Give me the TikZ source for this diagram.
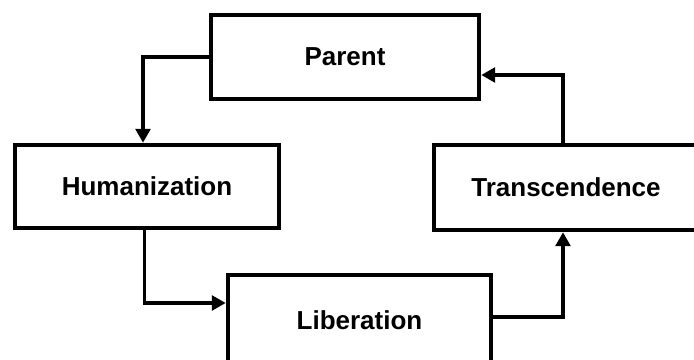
\documentclass[tikz,border=0pt]{standalone}
\usepackage{fontspec}
\setmainfont{Liberation Sans}
\usetikzlibrary{arrows.meta}
\tikzset{
  box/.style={draw=black, line width=3.3pt, fill=white, rectangle, inner sep=0pt,
    font=\fontsize{19.5pt}{22pt}\selectfont\bfseries},
  conn/.style={draw=black, line width=2.6pt, -{Triangle[length=10.5pt,width=11pt]}}
}
\begin{document}
\begin{tikzpicture}[x=0.75pt,y=-0.75pt]
\fill[white] (0,0) rectangle (694,360);
\useasboundingbox (0,0) rectangle (694,360);
\node[box, minimum width=268*0.75pt, minimum height=84*0.75pt] (P) at (345,57) {Parent};
\node[box, minimum width=264*0.75pt, minimum height=83*0.75pt] (H) at (147,186.5) {Humanization};
\node[box, minimum width=264*0.75pt, minimum height=85*0.75pt] (T) at (566,187.5) {Transcendence};
\node[box, minimum width=263*0.75pt, minimum height=90*0.75pt] (L) at (359.5,320) {Liberation};
\draw[conn] (P.west) -| ([xshift=-3pt]H.north);
\draw[conn] ([xshift=-2pt]H.south) |- ([yshift=12.75pt]L.west);
\draw[conn] ([yshift=2.25pt]L.east) -| ([xshift=-2.25pt]T.south);
\draw[conn] ([xshift=-2.25pt]T.north) |- ([yshift=-13.5pt]P.east);
\end{tikzpicture}
\end{document}
